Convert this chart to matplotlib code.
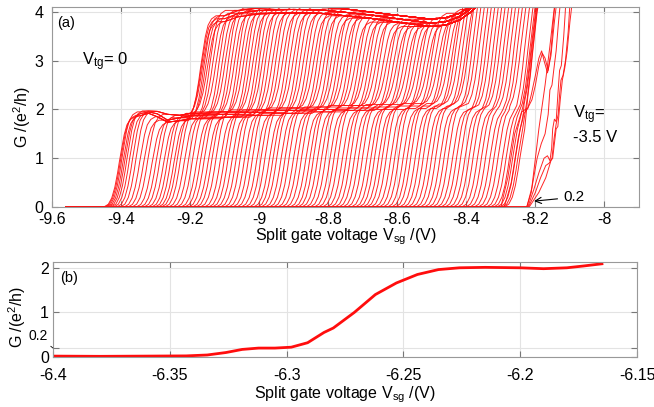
import matplotlib
matplotlib.use('Agg')
import matplotlib.pyplot as plt

plt.rcParams['font.family'] = ['Liberation Sans', 'DejaVu Sans']
plt.rcParams['mathtext.fontset'] = 'custom'
plt.rcParams['mathtext.rm'] = 'Liberation Sans'
plt.rcParams['mathtext.it'] = 'Liberation Sans:italic'

# ---- panel (a): one trace per top-gate voltage ----
x_start = -9.56

# midpoint of the 0 -> 2 step of each trace (V)
rise1 = [-9.405, -9.402, -9.398, -9.394, -9.389, -9.383, -9.376, -9.367, -9.357, -9.346,
         -9.335, -9.323, -9.311, -9.299, -9.288, -9.277, -9.266, -9.256, -9.247, -9.238,
         -9.228, -9.217, -9.205, -9.193, -9.181, -9.170, -9.159, -9.148, -9.137, -9.125,
         -9.113, -9.101, -9.090, -9.079, -9.067, -9.055, -9.043, -9.031, -9.019, -9.007,
         -8.995, -8.983, -8.971, -8.960, -8.949, -8.937, -8.925, -8.913, -8.901, -8.889,
         -8.877, -8.865, -8.853, -8.842, -8.831, -8.819, -8.807, -8.795, -8.783, -8.771,
         -8.759, -8.747, -8.735, -8.724, -8.712, -8.700, -8.688, -8.676, -8.665, -8.654,
         -8.643, -8.631, -8.619, -8.607, -8.595, -8.583, -8.571, -8.560, -8.548, -8.536,
         -8.524, -8.512, -8.500, -8.488, -8.476, -8.464, -8.452, -8.440, -8.428, -8.416,
         -8.404, -8.392, -8.380, -8.368, -8.356, -8.344, -8.332, -8.320, -8.308, -8.296,
         -8.285, -8.275, -8.266, -8.258, -8.251, -8.245]

# midpoint of the 2 -> 4 step of each trace (V)
rise2 = [-9.170, -9.168, -9.165, -9.161, -9.156, -9.150, -9.143, -9.135, -9.126, -9.117,
         -9.108, -9.099, -9.090, -9.081, -9.072, -9.063, -9.054, -9.045, -9.036, -9.027,
         -9.018, -9.009, -9.000, -8.991, -8.982, -8.972, -8.962, -8.952, -8.942, -8.932,
         -8.922, -8.912, -8.902, -8.892, -8.882, -8.872, -8.862, -8.852, -8.842, -8.832,
         -8.822, -8.812, -8.802, -8.792, -8.782, -8.772, -8.762, -8.752, -8.742, -8.732,
         -8.722, -8.712, -8.702, -8.692, -8.682, -8.672, -8.662, -8.652, -8.642, -8.632,
         -8.622, -8.612, -8.602, -8.592, -8.582, -8.572, -8.562, -8.552, -8.542, -8.532,
         -8.522, -8.512, -8.502, -8.492, -8.482, -8.472, -8.462, -8.452, -8.442, -8.432,
         -8.422, -8.412, -8.402, -8.392, -8.382, -8.372, -8.362, -8.352, -8.342, -8.332,
         -8.322, -8.312, -8.302, -8.292, -8.282, -8.272, -8.262, -8.252, -8.242, -8.232,
         -8.222, -8.216, -8.213, -8.211, -8.210, -8.209]

# shape of one conductance step, relative to its midpoint
step_dx = [-0.045, -0.032, -0.022, -0.013, -0.005, 0.0, 0.006, 0.014, 0.022, 0.032, 0.045]
step_frac = [0.0, 0.03, 0.1, 0.22, 0.38, 0.5, 0.63, 0.8, 0.91, 0.97, 1.0]

# the G = 2 plateau band: lower edge, middle, upper edge
lb_x = [-9.355, -9.34, -9.32, -9.295, -9.265, -9.23, -9.2, -9.1, -9.0, -8.9, -8.8,
        -8.7, -8.6, -8.5, -8.4, -8.3, -8.24, -8.222]
lb_bot = [1.85, 1.88, 1.92, 1.85, 1.74, 1.77, 1.81, 1.84, 1.88, 1.92, 1.95,
          1.98, 2.0, 2.02, 2.02, 2.0, 1.98, 1.97]
lb_mid = [1.88, 1.92, 1.95, 1.91, 1.78, 1.83, 1.87, 1.9, 1.94, 1.98, 2.0,
          2.03, 2.05, 2.07, 2.07, 2.05, 2.02, 2.0]
lb_top = [1.9, 1.95, 1.97, 1.96, 1.9, 1.88, 1.92, 1.95, 1.99, 2.03, 2.05,
          2.08, 2.1, 2.12, 2.11, 2.08, 2.05, 2.03]

# the G = 4 plateau band: lower edge, middle, upper edge
ub_x = [-9.10, -9.06, -9.0, -8.9, -8.82, -8.75, -8.68, -8.6, -8.5, -8.46, -8.42, -8.39, -8.35]
ub_bot = [3.8, 3.9, 3.96, 3.98, 3.97, 3.92, 3.87, 3.79, 3.7, 3.73, 3.83, 3.98, 4.25]
ub_mid = [3.86, 3.97, 4.03, 4.05, 4.04, 3.99, 3.94, 3.86, 3.77, 3.80, 3.9, 4.05, 4.3]
ub_top = [3.92, 4.03, 4.08, 4.1, 4.1, 4.06, 4.0, 3.93, 3.85, 3.88, 3.97, 4.1, 4.35]

# last traces (most negative top gate), read point by point
tail_x = [
    [-8.30, -8.28, -8.26, -8.24, -8.222, -8.21, -8.2, -8.19, -8.18, -8.172, -8.163, -8.155, -8.147, -8.14],
    [-8.29, -8.27, -8.25, -8.235, -8.222, -8.212, -8.2, -8.19, -8.182, -8.175, -8.165, -8.155, -8.145, -8.135],
    [-8.225, -8.212, -8.20, -8.19, -8.18, -8.172, -8.165, -8.158, -8.15, -8.14],
    [-8.225, -8.21, -8.195, -8.183, -8.172, -8.163, -8.158, -8.152, -8.147, -8.14, -8.133, -8.125],
    [-8.222, -8.205, -8.19, -8.175, -8.165, -8.158, -8.153, -8.15, -8.145, -8.14, -8.135, -8.13, -8.125, -8.118, -8.11],
    [-8.22, -8.2, -8.185, -8.17, -8.16, -8.152, -8.146, -8.14, -8.134, -8.13, -8.126, -8.12, -8.113, -8.105, -8.098],
    [-8.218, -8.19, -8.17, -8.155, -8.15, -8.145, -8.14, -8.135, -8.128, -8.122, -8.115, -8.108, -8.1, -8.09],
]
tail_g = [
    [0, 0.6, 1.5, 1.95, 2.03, 2.2, 2.5, 2.9, 3.15, 3.05, 2.8, 3.2, 3.9, 4.4],
    [0, 0.5, 1.4, 1.9, 2.02, 2.3, 2.7, 3.05, 3.2, 3.0, 2.75, 3.1, 3.8, 4.4],
    [0, 0.3, 1.0, 1.6, 2.1, 2.5, 2.9, 3.3, 3.8, 4.4],
    [0, 0.4, 1.0, 1.3, 1.5, 1.9, 2.4, 2.5, 2.8, 3.2, 3.8, 4.4],
    [0, 0.35, 0.7, 1.0, 1.05, 0.95, 1.2, 1.6, 1.8, 1.75, 2.3, 2.8, 2.9, 3.5, 4.4],
    [0, 0.3, 0.6, 0.85, 0.9, 1.0, 1.4, 1.7, 1.9, 2.3, 2.6, 2.7, 3.0, 3.6, 4.4],
    [0, 0.3, 0.6, 0.95, 1.0, 1.3, 1.6, 1.65, 2.2, 2.6, 2.85, 3.2, 3.8, 4.4],
]

a_xticks = [-9.6, -9.4, -9.2, -9.0, -8.8, -8.6, -8.4, -8.2, -8.0]
a_xlabels = ['-9.6', '-9.4', '-9.2', '-9', '-8.8', '-8.6', '-8.4', '-8.2', '-8']
a_yticks = [0, 1, 2, 3, 4]

# ---- panel (b): single trace ----
b_x = [-6.4, -6.38, -6.36, -6.343, -6.334, -6.326, -6.319, -6.312, -6.305, -6.298,
       -6.291, -6.284, -6.28, -6.271, -6.262, -6.253, -6.244, -6.235, -6.226, -6.215,
       -6.2, -6.19, -6.18, -6.173, -6.165]
b_g = [0.02, 0.015, 0.02, 0.025, 0.045, 0.1, 0.17, 0.2, 0.2, 0.22,
       0.32, 0.55, 0.65, 1.0, 1.4, 1.66, 1.85, 1.96, 2.0, 2.01,
       2.0, 1.98, 2.0, 2.04, 2.09]
b_xticks = [-6.4, -6.35, -6.3, -6.25, -6.2, -6.15]
b_xlabels = ['-6.4', '-6.35', '-6.3', '-6.25', '-6.2', '-6.15']
b_yticks = [0, 0.2, 1, 2]
b_ylabels = ['0', '', '1', '2']


def build_trace(r1, r2, lb_g, ub_g):
    xs = [x_start]
    gs = [0.0]
    mid = 0.5 * (r1 + r2)
    end1 = r1 + step_dx[-1]
    start2 = r2 + step_dx[0]
    after = [k for k in range(len(lb_x)) if lb_x[k] > end1]
    top1 = lb_g[after[0]] if after else 2.0
    for dx, f in zip(step_dx, step_frac):
        if r1 + dx < mid:
            xs.append(r1 + dx)
            gs.append(f * top1)
    lo = gs[-1]
    for bx, bg in zip(lb_x, lb_g):
        if end1 < bx < start2:
            xs.append(bx)
            gs.append(bg)
            lo = bg
    end2 = r2 + step_dx[-1]
    up = [k for k in range(len(ub_x)) if ub_x[k] > end2]
    hi = ub_g[up[0]] if up else 4.6
    for dx, f in zip(step_dx, step_frac):
        if r2 + dx > mid:
            xs.append(r2 + dx)
            gs.append(lo + f * (hi - lo))
    for k in up:
        xs.append(ub_x[k])
        gs.append(ub_g[k])
    return xs, gs


fig = plt.figure(figsize=(6.54, 4.07), dpi=100)
ax1 = fig.add_axes([52 / 654, 1 - 207 / 407, 587 / 654, 200 / 407])
ax2 = fig.add_axes([53 / 654, 1 - 357 / 407, 584 / 654, 95 / 407])

red = '#ff0d0d'
lower_bands = [lb_bot, lb_mid, lb_top]
upper_bands = [ub_top, ub_mid, ub_bot]
for i, (r1, r2) in enumerate(zip(rise1, rise2)):
    xs, gs = build_trace(r1, r2, lower_bands[i % 3], upper_bands[i % 3])
    ax1.plot(xs, gs, color=red, lw=0.7, alpha=0.9)
for tx, tg in zip(tail_x, tail_g):
    ax1.plot([x_start] + tx, [0] + tg, color=red, lw=0.7, alpha=0.9)

ax2.plot(b_x, b_g, color=red, lw=2.0)

for ax in (ax1, ax2):
    ax.grid(True, color='#e3e3e3', lw=0.8)
    ax.set_axisbelow(True)
    ax.tick_params(direction='in', top=True, right=True, length=4,
                   labelsize=11.5, color='#777777', pad=3)
    for s in ax.spines.values():
        s.set_color('#999999')
        s.set_linewidth(0.8)

ax1.set_xlim(-9.6, -7.9)
ax1.set_ylim(0, 4.1)
ax1.set_xticks(a_xticks)
ax1.set_xticklabels(a_xlabels)
ax1.set_yticks(a_yticks)
ax1.tick_params(axis='x', pad=3.5)
ax1.tick_params(axis='y', pad=6)
ax1.set_xlabel(r'Split gate voltage V$_{\rm sg}$ /(V)', fontsize=11.5, labelpad=0)
ax1.set_ylabel('G /(e$^{2}$/h)', fontsize=11.5)
ax1.yaxis.set_label_coords(-0.033, 0.45)

ax1.text(-9.585, 3.77, '(a)', fontsize=10.5, va='center')
ax1.text(-9.513, 2.91, r'V$_{\rm tg}$= 0', fontsize=12)
ax1.text(-8.09, 1.33, 'V$_{\\rm tg}$=\n-3.5 V', fontsize=12, linespacing=1.35)
ax1.annotate('0.2', xy=(-8.204, 0.12), xytext=(-8.12, 0.2), fontsize=11,
             va='center', arrowprops=dict(arrowstyle='->', color='k', lw=0.8,
                                         shrinkA=2, shrinkB=0))

ax2.set_xlim(-6.4, -6.15)
ax2.set_ylim(0, 2.13)
ax2.set_xticks(b_xticks)
ax2.set_xticklabels(b_xlabels)
ax2.set_yticks(b_yticks)
ax2.set_yticklabels(b_ylabels)
ax2.tick_params(axis='x', pad=8)
ax2.set_xlabel(r'Split gate voltage V$_{\rm sg}$ /(V)', fontsize=11.5, labelpad=1)
ax2.set_ylabel('G /(e$^{2}$/h)', fontsize=11.5)
ax2.yaxis.set_label_coords(-0.042, 0.42)
ax2.text(-6.397, 1.78, '(b)', fontsize=10.5, va='center')
ax2.annotate('0.2', xy=(-6.4, 0.2), xytext=(-11, 9), textcoords='offset points',
             xycoords='data', fontsize=10, ha='center', va='center',
             annotation_clip=False,
             arrowprops=dict(arrowstyle='-', color='k', lw=0.6, shrinkA=1, shrinkB=0))

fig.savefig('out.png', dpi=100)
